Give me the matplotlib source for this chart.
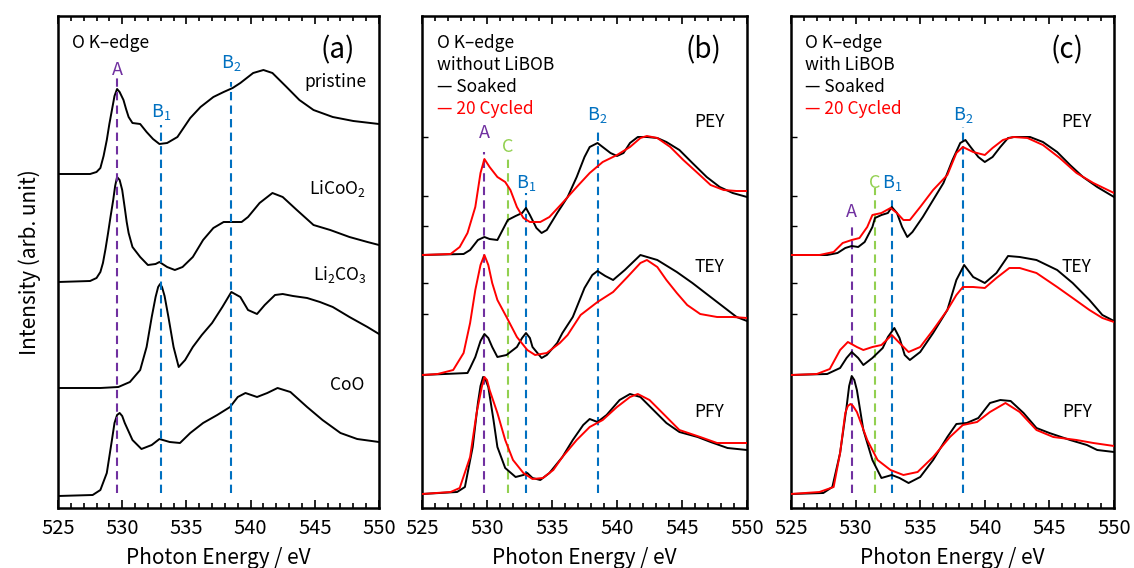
import matplotlib.pyplot as plt
import numpy as np

plt.rcParams['font.family'] = ['Noto Sans CJK JP', 'DejaVu Sans']
plt.rcParams['mathtext.default'] = 'regular'

# ---- panel (a): reference spectra ----
e_pri = [525.0, 527.5, 528.0, 528.3, 528.55, 528.8, 529.0, 529.2, 529.4, 529.6, 529.8, 530.1, 530.3, 530.5,
         530.8, 531.4, 531.9, 532.4, 532.9, 533.5, 534.3, 535.3, 536.1, 537.1, 537.9, 538.6, 539.2, 540.2,
         541.0, 541.7, 542.8, 543.8, 544.9, 546.4, 548.0, 550.0]
i_pri = [334, 334, 336, 340, 352, 368, 384, 398, 412, 419, 416, 408, 399, 391, 385, 384, 376, 369, 364, 365,
         371, 390, 401, 411, 416, 420, 425, 435, 438, 435, 421, 408, 398, 391, 387, 384]

e_lco = [525.0, 527.5, 528.0, 528.3, 528.5, 528.7, 528.9, 529.1, 529.3, 529.45, 529.6, 529.8, 530.0, 530.2,
         530.35, 530.5, 530.8, 531.4, 532.0, 532.6, 532.9, 533.5, 534.1, 534.7, 535.5, 536.3, 537.1, 537.9,
         538.6, 539.3, 539.8, 540.7, 541.7, 542.5, 543.6, 544.9, 546.2, 547.7, 549.1, 550.0]
i_lco = [226, 227, 230, 236, 245, 259, 275, 292, 308, 322, 331, 328, 318, 300, 286, 275, 261, 251, 243, 244,
         246, 241, 238, 241, 251, 268, 280, 286, 286, 286, 291, 305, 315, 311, 298, 283, 278, 271, 266, 263]

e_lic = [525.0, 528.3, 529.7, 530.6, 531.4, 531.9, 532.3, 532.6, 532.8, 532.95, 533.1, 533.3, 533.6, 534.0,
         534.4, 534.9, 535.5, 536.2, 537.0, 537.8, 538.5, 539.2, 539.8, 540.5, 541.1, 541.9, 542.5, 543.3,
         544.4, 545.4, 546.4, 547.7, 549.1, 550.0]
i_lic = [120, 120, 121, 126, 138, 161, 191, 211, 221, 224, 221, 212, 191, 161, 141, 148, 161, 173, 185, 201,
         216, 211, 198, 194, 203, 213, 214, 212, 210, 206, 201, 191, 181, 174]

e_coo = [525.0, 527.7, 528.3, 528.8, 529.2, 529.4, 529.6, 529.8, 530.0, 530.2, 530.8, 531.5, 532.3, 532.9,
         533.7, 534.5, 535.3, 536.3, 537.4, 538.4, 539.0, 539.6, 540.5, 541.3, 542.1, 543.1, 544.4, 545.6,
         547.0, 548.3, 550.0]
i_coo = [12, 13, 18, 35, 68, 85, 93, 95, 92, 85, 68, 59, 63, 69, 66, 65, 75, 85, 93, 101, 111, 115, 111, 115,
         120, 116, 101, 88, 75, 69, 66]

# ---- panel (b): without LiBOB ----
e_b_pey_s = [525.0, 528.2, 528.7, 529.3, 529.8, 530.2, 530.8, 531.2, 531.6, 532.2, 532.7, 533.0, 533.3, 533.8,
             534.2, 534.6, 535.4, 536.2, 536.9, 537.5, 537.9, 538.5, 538.9, 539.5, 540.0, 540.5, 541.0, 541.6,
             542.3, 543.1, 543.8, 544.8, 545.8, 546.9, 547.9, 548.9, 550.0]
i_b_pey_s = [253, 254, 258, 268, 271, 269, 268, 278, 288, 292, 295, 300, 293, 280, 275, 278, 295, 311, 331, 351,
             361, 365, 361, 355, 352, 355, 365, 371, 371, 370, 366, 358, 345, 331, 321, 315, 311]
e_b_pey_c = [525.0, 527.2, 527.9, 528.5, 529.1, 529.5, 529.8, 530.2, 530.8, 531.4, 531.8, 532.3, 532.8, 533.3,
             534.1, 534.8, 535.8, 536.9, 537.9, 538.9, 540.0, 541.0, 541.8, 542.3, 543.1, 544.1, 545.1, 546.2,
             547.2, 548.2, 549.2, 550.0]
i_b_pey_c = [253, 254, 261, 275, 301, 335, 349, 341, 331, 326, 318, 301, 290, 286, 286, 291, 305, 321, 335, 346,
             353, 361, 370, 372, 370, 361, 348, 335, 323, 318, 317, 317]

e_b_tey_s = [525.0, 528.5, 528.7, 529.1, 529.5, 529.8, 530.1, 530.4, 530.8, 531.5, 532.3, 532.7, 533.0, 533.3,
             533.5, 534.2, 534.6, 535.4, 535.8, 536.6, 537.5, 538.1, 538.5, 539.1, 539.7, 540.6, 541.8, 543.1,
             544.6, 545.8, 547.2, 548.5, 549.2, 550.0]
i_b_tey_s = [133, 135, 140, 151, 167, 174, 170, 161, 151, 153, 161, 170, 175, 170, 161, 150, 153, 165, 175, 191,
             220, 233, 237, 232, 228, 238, 253, 248, 236, 225, 211, 198, 191, 187]
e_b_tey_c = [525.0, 526.2, 527.4, 528.2, 528.7, 529.1, 529.5, 529.8, 530.1, 530.4, 530.8, 531.5, 532.3, 533.1,
             533.7, 534.6, 535.6, 536.2, 537.2, 538.5, 539.7, 540.8, 541.8, 542.3, 543.1, 543.8, 544.6, 545.4,
             546.4, 547.7, 548.9, 550.0]
i_b_tey_c = [133, 134, 138, 155, 185, 218, 243, 253, 243, 225, 208, 191, 171, 158, 153, 155, 165, 173, 193, 206,
             216, 231, 245, 248, 241, 228, 215, 203, 194, 191, 191, 190]

e_b_pfy_s = [525.0, 527.7, 528.3, 528.9, 529.3, 529.5, 529.7, 529.9, 530.1, 530.5, 530.8, 531.4, 532.2, 532.8,
             533.1, 533.5, 534.1, 534.8, 535.8, 536.6, 537.4, 537.9, 538.5, 539.2, 540.2, 541.0, 541.8, 542.8,
             543.8, 544.8, 546.2, 547.2, 548.5, 550.0]
i_b_pfy_s = [14, 16, 21, 61, 105, 122, 131, 128, 121, 88, 61, 40, 31, 33, 35, 30, 28, 35, 51, 68, 83, 89, 86, 93,
             108, 114, 111, 98, 85, 76, 71, 66, 60, 58]
e_b_pfy_c = [525.0, 527.2, 527.9, 528.7, 529.2, 529.6, 529.8, 530.0, 530.2, 530.8, 531.4, 532.0, 532.8, 533.5,
             534.3, 535.1, 535.8, 536.9, 537.9, 538.9, 540.0, 541.0, 541.6, 542.5, 543.5, 544.8, 546.4, 547.7,
             550.0]
i_b_pfy_c = [14, 16, 20, 51, 95, 121, 131, 128, 118, 95, 68, 48, 35, 29, 30, 38, 51, 68, 81, 88, 101, 111, 114,
             108, 95, 78, 71, 65, 65]

# ---- panel (c): with LiBOB ----
e_c_pey_s = [525.0, 527.8, 528.6, 529.2, 529.7, 530.2, 530.7, 531.3, 531.5, 532.0, 532.5, 532.8, 533.2, 533.6,
             534.0, 534.4, 535.2, 536.0, 536.8, 537.5, 538.1, 538.5, 538.9, 539.5, 540.0, 540.6, 541.2, 541.8,
             542.3, 543.5, 544.5, 545.6, 546.6, 547.6, 548.7, 550.0]
i_c_pey_s = [253, 253, 255, 260, 262, 261, 266, 281, 290, 293, 295, 301, 295, 281, 271, 276, 291, 308, 325, 348,
             365, 368, 361, 351, 346, 351, 361, 370, 371, 371, 366, 356, 343, 331, 321, 311]
e_c_pey_c = [525.0, 527.2, 528.3, 529.0, 529.7, 530.3, 530.9, 531.3, 532.0, 532.7, 533.2, 533.7, 534.2, 535.0,
             536.0, 537.1, 537.8, 538.3, 539.1, 540.0, 540.6, 541.4, 542.2, 543.3, 544.5, 545.8, 547.1, 548.4,
             550.0]
i_c_pey_c = [253, 253, 256, 265, 268, 270, 281, 293, 295, 300, 295, 288, 288, 301, 318, 333, 355, 361, 356, 353,
             360, 368, 371, 370, 363, 350, 335, 325, 315]

e_c_tey_s = [525.0, 527.8, 528.8, 529.3, 529.7, 530.2, 530.6, 531.3, 532.1, 532.5, 533.0, 533.4, 533.8, 534.2,
             535.0, 536.0, 537.1, 537.8, 538.4, 539.1, 540.0, 540.9, 541.8, 542.7, 544.0, 545.6, 546.8, 548.1,
             549.1, 550.0]
i_c_tey_s = [133, 134, 140, 150, 156, 150, 143, 150, 160, 171, 180, 170, 153, 148, 156, 175, 198, 228, 243, 231,
             225, 235, 252, 251, 248, 238, 225, 208, 193, 187]
e_c_tey_c = [525.0, 527.0, 528.0, 528.8, 529.4, 530.1, 530.6, 531.3, 532.0, 532.8, 533.4, 534.1, 535.0, 536.0,
             537.1, 537.8, 538.3, 539.1, 540.0, 540.9, 541.9, 542.7, 544.0, 545.6, 546.8, 548.1, 549.1, 550.0]
i_c_tey_c = [133, 134, 139, 158, 166, 161, 158, 161, 163, 173, 165, 156, 161, 178, 198, 213, 221, 221, 220, 230,
             240, 240, 235, 221, 210, 198, 190, 186]

e_c_pfy_s = [525.0, 527.5, 528.2, 528.8, 529.3, 529.5, 529.7, 529.9, 530.1, 530.6, 531.3, 532.0, 532.8, 533.4,
             534.1, 535.0, 536.0, 537.1, 537.8, 538.6, 539.5, 540.4, 541.2, 542.0, 543.0, 544.0, 545.0, 546.6,
             547.9, 548.7, 550.0]
i_c_pfy_s = [14, 15, 21, 55, 101, 122, 132, 128, 118, 78, 48, 30, 33, 30, 25, 31, 48, 71, 84, 85, 90, 105, 108,
             107, 95, 80, 75, 68, 63, 58, 56]
e_c_pfy_c = [525.0, 527.2, 528.3, 528.8, 529.2, 529.4, 529.6, 529.8, 530.1, 530.9, 531.7, 532.7, 533.7, 534.8,
             536.0, 537.3, 538.3, 539.4, 540.4, 541.6, 542.7, 544.0, 545.3, 547.1, 548.4, 550.0]
i_c_pfy_c = [14, 16, 21, 55, 95, 102, 104, 102, 96, 68, 48, 38, 33, 36, 51, 71, 83, 86, 96, 105, 96, 78, 71, 68,
             65, 62]

# peak markers: energy, line top, label y
mk_a = {'A': (529.6, 431, 438), 'B$_1$': (533.0, 383, 396), 'B$_2$': (538.5, 426, 445)}
mk_b = {'A': (529.8, 356, 375), 'C': (531.6, 350, 361), 'B$_1$': (533.0, 315, 325), 'B$_2$': (538.5, 380, 393)}
mk_c = {'A': (529.7, 281, 296), 'C': (531.5, 320, 325), 'B$_1$': (532.8, 311, 325), 'B$_2$': (538.3, 381, 393)}
mk_col = {'A': '#7030A0', 'C': '#92D050', 'B$_1$': '#0070C0', 'B$_2$': '#0070C0'}

fig = plt.figure(figsize=(11.34, 5.68), dpi=100)
ax_a = fig.add_axes([58/1134, 1-508/568, 321/1134, 492/568])
ax_b = fig.add_axes([422/1134, 1-508/568, 325/1134, 492/568])
ax_c = fig.add_axes([791/1134, 1-508/568, 323/1134, 492/568])


def style(ax, yticks):
    ax.set_xlim(525, 550)
    ax.set_ylim(0, 492)
    ax.set_xticks(np.arange(525, 551, 5))
    ax.set_xticks(np.arange(525, 551, 1), minor=True)
    ax.set_yticks(yticks)
    ax.set_yticklabels([])
    ax.tick_params(axis='x', which='major', direction='in', top=True, length=6, width=1.2,
                   labelsize=14.5, pad=7)
    ax.tick_params(axis='x', which='minor', direction='in', top=True, length=3.5, width=1.2)
    ax.tick_params(axis='y', direction='in', length=4, width=1)
    for s in ax.spines.values():
        s.set_linewidth(1.8)
    ax.set_xlabel('Photon Energy / eV', fontsize=15, labelpad=6)


def markers(ax, mk, fs=13):
    for name, (e, top, ly) in mk.items():
        ax.plot([e, e], [15, top], color=mk_col[name], lw=1.5, ls=(0, (4, 2.5)))
        ax.text(e, ly, name, color=mk_col[name], fontsize=fs, ha='center', va='center')


txt = 12.5

# panel (a)
style(ax_a, [])
for e, i in [(e_pri, i_pri), (e_lco, i_lco), (e_lic, i_lic), (e_coo, i_coo)]:
    ax_a.plot(e, i, color='black', lw=1.4)
markers(ax_a, mk_a)
ax_a.text(0.044, 0.945, 'O K–edge', transform=ax_a.transAxes, fontsize=txt, va='center')
ax_a.text(0.87, 0.931, '(a)', transform=ax_a.transAxes, fontsize=20, ha='center', va='center')
ax_a.text(0.863, 0.866, 'pristine', transform=ax_a.transAxes, fontsize=txt, ha='center', va='center')
ax_a.text(0.872, 0.650, 'LiCoO$_2$', transform=ax_a.transAxes, fontsize=txt, ha='center', va='center')
ax_a.text(0.878, 0.474, 'Li$_2$CO$_3$', transform=ax_a.transAxes, fontsize=txt, ha='center', va='center')
ax_a.text(0.900, 0.250, 'CoO', transform=ax_a.transAxes, fontsize=txt, ha='center', va='center')
ax_a.set_ylabel('Intensity (arb. unit)', fontsize=15, labelpad=12)

# panels (b) and (c)
panels = [
    (ax_b, '(b)', 'without LiBOB', mk_b,
     [(e_b_pey_s, i_b_pey_s, e_b_pey_c, i_b_pey_c), (e_b_tey_s, i_b_tey_s, e_b_tey_c, i_b_tey_c),
      (e_b_pfy_s, i_b_pfy_s, e_b_pfy_c, i_b_pfy_c)], 0.865, 0.046),
    (ax_c, '(c)', 'with LiBOB', mk_c,
     [(e_c_pey_s, i_c_pey_s, e_c_pey_c, i_c_pey_c), (e_c_tey_s, i_c_tey_s, e_c_tey_c, i_c_tey_c),
      (e_c_pfy_s, i_c_pfy_s, e_c_pfy_c, i_c_pfy_c)], 0.854, 0.043),
]
modes = ['PEY', 'TEY', 'PFY']
mode_y = [0.785, 0.490, 0.195]
for ax, tag, sub, mk, curves, tagx, tx in panels:
    style(ax, [194, 225, 282, 312, 371])
    for es, is_, ec, ic in curves:
        ax.plot(es, is_, color='black', lw=1.4, zorder=3)
        ax.plot(ec, ic, color='#FF0000', lw=1.4, zorder=4)
    markers(ax, mk)
    ax.text(tx, 0.945, 'O K–edge', transform=ax.transAxes, fontsize=txt, va='center')
    ax.text(tx, 0.900, sub, transform=ax.transAxes, fontsize=txt, va='center')
    ax.text(tx, 0.856, '— Soaked', transform=ax.transAxes, fontsize=txt, va='center', color='black')
    ax.text(tx, 0.811, '— 20 Cycled', transform=ax.transAxes, fontsize=txt, va='center', color='#FF0000')
    ax.text(tagx, 0.931, tag, transform=ax.transAxes, fontsize=20, ha='center', va='center')
    for m, my in zip(modes, mode_y):
        ax.text(0.885, my, m, transform=ax.transAxes, fontsize=txt, ha='center', va='center')

fig.savefig('out.png', dpi=100)
